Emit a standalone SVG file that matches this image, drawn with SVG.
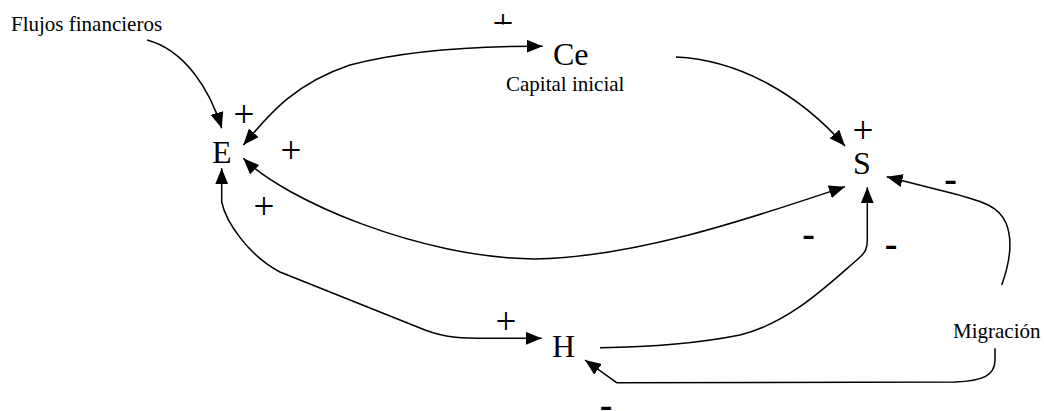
<svg xmlns="http://www.w3.org/2000/svg" width="1044" height="411" viewBox="0 0 1044 411">
<style>
  .lbl { font-family: "Liberation Serif", "Times New Roman", serif; fill: #000; }
  .node { font-size: 32px; }
  .small { font-size: 21px; }
  .plus { font-family: "Liberation Serif", "Times New Roman", serif; font-size: 37px; text-anchor: middle; fill: #000; }
  .minus { font-family: "Liberation Serif", "Times New Roman", serif; font-weight: bold; font-size: 38px; text-anchor: middle; fill: #000; }
  .conn { fill: none; stroke: #000; stroke-width: 1.5; }
</style>
<defs>
  <marker id="ah" viewBox="0 0 16 13" refX="16" refY="6.5" markerWidth="16" markerHeight="13" markerUnits="userSpaceOnUse" orient="auto-start-reverse">
    <path d="M0,0 L16,6.5 L0,13 z" fill="#000"/>
  </marker>
  <clipPath id="topclip"><rect x="480" y="0" width="50" height="24.5"/></clipPath>
</defs>
<rect width="1044" height="411" fill="#fff"/>

<g id="connectors">
  <path id="c-flujos-e" class="conn" d="M147,40 C185,50 210,90 221.7,128.3" marker-end="url(#ah)"/>
  <path id="c-e-ce" class="conn" d="M243.3,145 C265,120 290,85 350,65 C400,52 470,46 542.7,46.3" marker-start="url(#ah)" marker-end="url(#ah)"/>
  <path id="c-ce-s" class="conn" d="M676,57 C740,60 800,95 845,146" marker-end="url(#ah)"/>
  <path id="c-e-s" class="conn" d="M243.3,158.3 C285,200 420,258 535,259 C640,257 760,215 845,186.7" marker-start="url(#ah)" marker-end="url(#ah)"/>
  <path id="c-e-h" class="conn" d="M221.7,168.3 L221.7,202 C226,222 248,255 280,272 L425,330 C447,338.5 465,338.3 490,338.3 L541.7,338.3" marker-start="url(#ah)" marker-end="url(#ah)"/>
  <path id="c-h-s" class="conn" d="M600,347.7 C660,347 700,343 740,335 C790,323 830,283 858,259 C866,252 867.3,248 867.3,240 L867.3,187.3" marker-end="url(#ah)"/>
  <path id="c-mig-s" class="conn" d="M1001.7,285 C1010,262 1013,240 1006,223 C999,207 985,202 955,194 L886.7,176.7" marker-end="url(#ah)"/>
  <path id="c-mig-h" class="conn" d="M995,348.3 L995,360 C995,376 982,381 955,382 L616.7,382.7 L585,360" marker-end="url(#ah)"/>
</g>

<g id="node-flujos"><text class="lbl small" x="11" y="31">Flujos financieros</text></g>
<g id="node-ce">
  <text class="lbl node" x="553" y="65">Ce</text>
  <text class="lbl small" x="506" y="90.7">Capital inicial</text>
</g>
<g id="node-e"><text class="lbl node" x="212" y="163.3">E</text></g>
<g id="node-s"><text class="lbl node" x="853" y="174">S</text></g>
<g id="node-h"><text class="lbl node" x="552" y="356.7">H</text></g>
<g id="node-migracion"><text class="lbl small" x="953" y="338.3">Migración</text></g>

<g id="signs">
  <text class="plus" x="503" y="36.3" clip-path="url(#topclip)">+</text>
  <text class="plus" x="244" y="127">+</text>
  <text class="plus" x="291" y="163">+</text>
  <text class="plus" x="264" y="218.5">+</text>
  <text class="plus" x="506" y="334">+</text>
  <text class="plus" x="863" y="142.5">+</text>
  <text class="minus" x="950.5" y="190.7">-</text>
  <text class="minus" x="808.5" y="246.2">-</text>
  <text class="minus" x="891" y="255.7">-</text>
  <text class="minus" x="606" y="417">-</text>
</g>
</svg>
